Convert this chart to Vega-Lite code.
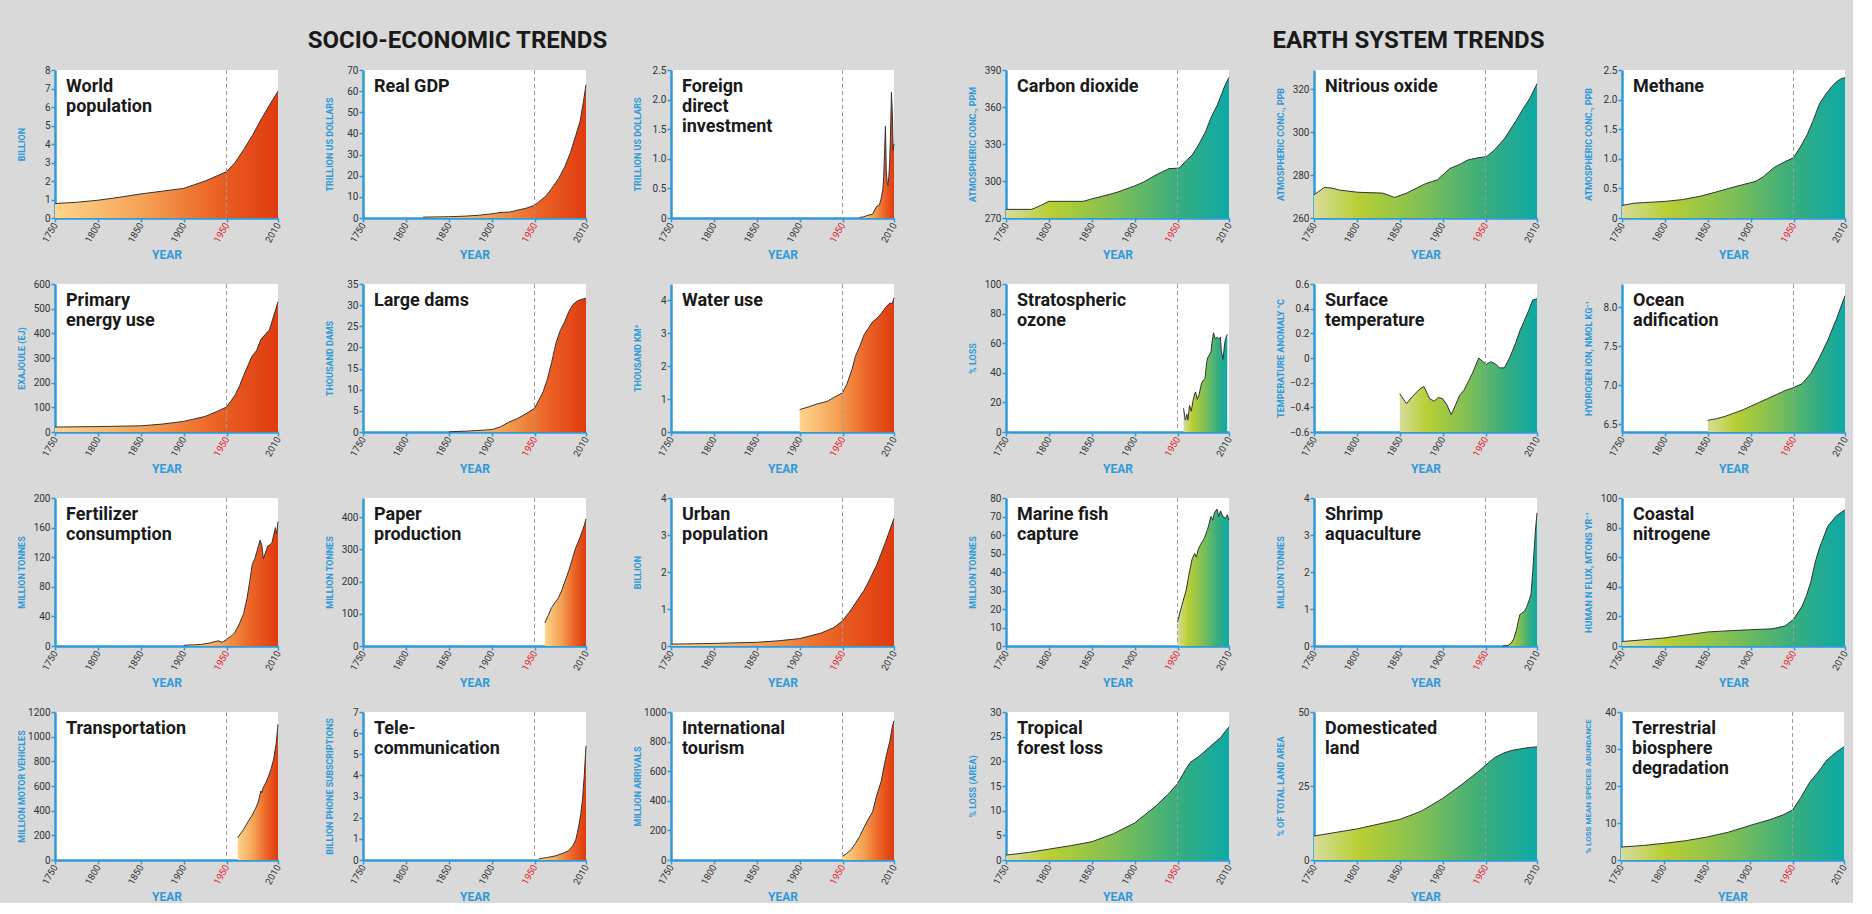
{
"$schema": "https://vega.github.io/schema/vega-lite/v6.json",
"background": "#d9d9d9",
"padding": {"left": 17, "top": 29, "right": 4, "bottom": 0},
"config": {
 "font": "Roboto, sans-serif",
 "view": {"fill": "white", "stroke": null},
 "axis": {"grid": false, "domainColor": "#2f9ad8", "domainWidth": 2.5, "tickColor": "#2f9ad8", "tickWidth": 1.5, "tickSize": 4, "labelFontSize": 10, "labelColor": "#333333", "titleFontWeight": "bold", "titleColor": "#2f9ad8", "titleFontSize": 9, "labelPadding": 1, "labelOverlap": false},
 "axisY": {"minExtent": 26, "maxExtent": 26, "titlePadding": 3, "labelOverlap": false, "tickCount": 20},
 "axisX": {"labelFontSize": 9.5, "titleFontSize": 12, "titlePadding": 6},
 "title": {"fontSize": 24, "fontWeight": "bold", "color": "#1a1a1a", "anchor": "middle", "offset": 12},
 "text": {"align": "left", "baseline": "top", "dx": 11, "dy": 8, "fontSize": 18, "fontWeight": "bold", "lineHeight": 20, "lineBreak": "\n", "color": "#1a1a1a"},
 "rule": {"color": "#9b9b9b", "strokeWidth": 1, "strokeDash": [4, 3]},
 "area": {"opacity": 1}
},
"datasets": {
 "ref": [{"year": 1950}],
 "worldPop": [{"year":1750,"value":0.78},{"year":1775,"value":0.85},{"year":1800,"value":0.96},{"year":1825,"value":1.12},{"year":1850,"value":1.3},{"year":1875,"value":1.45},{"year":1900,"value":1.6},{"year":1925,"value":2.0},{"year":1940,"value":2.3},{"year":1950,"value":2.5},{"year":1960,"value":3.0},{"year":1970,"value":3.7},{"year":1980,"value":4.45},{"year":1990,"value":5.3},{"year":2000,"value":6.1},{"year":2010,"value":6.85}],
 "gdp": [{"year":1820,"value":0.4},{"year":1850,"value":0.6},{"year":1870,"value":0.9},{"year":1885,"value":1.3},{"year":1900,"value":2.0},{"year":1913,"value":2.7},{"year":1921,"value":2.8},{"year":1930,"value":3.7},{"year":1940,"value":4.6},{"year":1950,"value":6.0},{"year":1955,"value":7.6},{"year":1964,"value":10.7},{"year":1970,"value":14},{"year":1978,"value":18.6},{"year":1985,"value":24},{"year":1992,"value":31},{"year":1998,"value":39},{"year":2003,"value":45.5},{"year":2007,"value":55},{"year":2010,"value":63}],
 "fdi": [{"year":1970,"value":0.01},{"year":1975,"value":0.02},{"year":1980,"value":0.05},{"year":1985,"value":0.06},{"year":1988,"value":0.15},{"year":1990,"value":0.2},{"year":1993,"value":0.22},{"year":1995,"value":0.33},{"year":1997,"value":0.48},{"year":1998,"value":0.7},{"year":1999,"value":1.1},{"year":2000,"value":1.55},{"year":2001,"value":0.8},{"year":2002,"value":0.6},{"year":2003,"value":0.55},{"year":2004,"value":0.7},{"year":2005,"value":0.95},{"year":2006,"value":1.45},{"year":2007,"value":2.12},{"year":2008,"value":1.8},{"year":2009,"value":1.15},{"year":2010,"value":1.25}],
 "energy": [{"year":1750,"value":20},{"year":1800,"value":22},{"year":1850,"value":25},{"year":1875,"value":32},{"year":1900,"value":43},{"year":1925,"value":63},{"year":1940,"value":85},{"year":1950,"value":101},{"year":1955,"value":125},{"year":1960,"value":150},{"year":1965,"value":185},{"year":1970,"value":230},{"year":1975,"value":270},{"year":1980,"value":309},{"year":1985,"value":330},{"year":1990,"value":375},{"year":1995,"value":395},{"year":2000,"value":414},{"year":2005,"value":470},{"year":2010,"value":528}],
 "dams": [{"year":1850,"value":0.05},{"year":1870,"value":0.2},{"year":1900,"value":0.55},{"year":1910,"value":1.2},{"year":1920,"value":2.3},{"year":1930,"value":3.2},{"year":1940,"value":4.3},{"year":1950,"value":5.6},{"year":1955,"value":7.5},{"year":1960,"value":9.5},{"year":1965,"value":12.5},{"year":1970,"value":16.5},{"year":1975,"value":21},{"year":1980,"value":24},{"year":1985,"value":26},{"year":1990,"value":28.5},{"year":1995,"value":30.2},{"year":2000,"value":31},{"year":2005,"value":31.4},{"year":2010,"value":31.6}],
 "water": [{"year":1900,"value":0.68},{"year":1910,"value":0.76},{"year":1920,"value":0.85},{"year":1932,"value":0.93},{"year":1940,"value":1.05},{"year":1950,"value":1.19},{"year":1955,"value":1.45},{"year":1961,"value":1.9},{"year":1965,"value":2.3},{"year":1970,"value":2.6},{"year":1975,"value":2.95},{"year":1980,"value":3.15},{"year":1985,"value":3.35},{"year":1990,"value":3.45},{"year":1995,"value":3.6},{"year":2000,"value":3.78},{"year":2005,"value":3.92},{"year":2008,"value":3.9},{"year":2010,"value":4.08}],
 "fert": [{"year":1900,"value":1},{"year":1910,"value":1.5},{"year":1920,"value":2},{"year":1930,"value":4},{"year":1940,"value":7},{"year":1945,"value":5},{"year":1950,"value":9},{"year":1955,"value":13},{"year":1959,"value":17},{"year":1965,"value":30},{"year":1970,"value":44},{"year":1974,"value":65},{"year":1977,"value":87},{"year":1980,"value":110},{"year":1983,"value":118},{"year":1986,"value":130},{"year":1989,"value":143},{"year":1991,"value":137},{"year":1993,"value":118},{"year":1995,"value":125},{"year":1998,"value":135},{"year":2001,"value":137},{"year":2003,"value":140},{"year":2005,"value":150},{"year":2007,"value":160},{"year":2008,"value":152},{"year":2009,"value":157},{"year":2010,"value":168}],
 "paper": [{"year":1962,"value":72},{"year":1966,"value":95},{"year":1970,"value":120},{"year":1974,"value":135},{"year":1978,"value":150},{"year":1982,"value":175},{"year":1986,"value":205},{"year":1990,"value":235},{"year":1994,"value":270},{"year":1998,"value":305},{"year":2002,"value":330},{"year":2006,"value":360},{"year":2008,"value":375},{"year":2010,"value":395}],
 "urban": [{"year":1750,"value":0.05},{"year":1800,"value":0.07},{"year":1850,"value":0.1},{"year":1875,"value":0.14},{"year":1900,"value":0.2},{"year":1925,"value":0.35},{"year":1940,"value":0.5},{"year":1950,"value":0.68},{"year":1960,"value":0.98},{"year":1970,"value":1.33},{"year":1975,"value":1.5},{"year":1980,"value":1.72},{"year":1990,"value":2.2},{"year":2000,"value":2.8},{"year":2010,"value":3.45}],
 "transport": [{"year":1963,"value":180},{"year":1967,"value":220},{"year":1970,"value":250},{"year":1975,"value":310},{"year":1980,"value":365},{"year":1984,"value":420},{"year":1987,"value":470},{"year":1990,"value":560},{"year":1991,"value":545},{"year":1993,"value":590},{"year":1996,"value":630},{"year":1999,"value":680},{"year":2002,"value":740},{"year":2005,"value":820},{"year":2008,"value":950},{"year":2010,"value":1100}],
 "telecom": [{"year":1955,"value":0.05},{"year":1965,"value":0.12},{"year":1975,"value":0.2},{"year":1985,"value":0.35},{"year":1990,"value":0.45},{"year":1995,"value":0.7},{"year":1998,"value":0.95},{"year":2000,"value":1.3},{"year":2002,"value":1.7},{"year":2004,"value":2.2},{"year":2006,"value":2.9},{"year":2008,"value":4.0},{"year":2010,"value":5.4}],
 "tourism": [{"year":1950,"value":25},{"year":1955,"value":45},{"year":1960,"value":70},{"year":1965,"value":112},{"year":1970,"value":160},{"year":1975,"value":220},{"year":1980,"value":275},{"year":1985,"value":325},{"year":1990,"value":440},{"year":1995,"value":530},{"year":2000,"value":680},{"year":2005,"value":800},{"year":2008,"value":900},{"year":2010,"value":940}],
 "co2": [{"year":1750,"value":277},{"year":1780,"value":277},{"year":1790,"value":280},{"year":1800,"value":283.5},{"year":1840,"value":283.5},{"year":1850,"value":285.5},{"year":1870,"value":289},{"year":1880,"value":291},{"year":1900,"value":296},{"year":1910,"value":299},{"year":1925,"value":305},{"year":1940,"value":310},{"year":1952,"value":310.5},{"year":1960,"value":316.5},{"year":1967,"value":321},{"year":1975,"value":330},{"year":1982,"value":339},{"year":1990,"value":353},{"year":1996,"value":361},{"year":2000,"value":368},{"year":2005,"value":377},{"year":2010,"value":384}],
 "n2o": [{"year":1750,"value":270.8},{"year":1762,"value":274.2},{"year":1770,"value":274},{"year":1780,"value":273},{"year":1801,"value":272},{"year":1830,"value":271.6},{"year":1844,"value":269.6},{"year":1858,"value":271.6},{"year":1870,"value":274},{"year":1880,"value":276},{"year":1894,"value":277.8},{"year":1908,"value":283},{"year":1920,"value":285},{"year":1929,"value":287},{"year":1940,"value":288},{"year":1951,"value":288.6},{"year":1960,"value":291.5},{"year":1972,"value":297},{"year":1985,"value":305},{"year":1994,"value":311},{"year":2002,"value":316},{"year":2010,"value":322.6}],
 "ch4": [{"year":1750,"value":0.21},{"year":1764,"value":0.25},{"year":1800,"value":0.28},{"year":1820,"value":0.31},{"year":1842,"value":0.37},{"year":1860,"value":0.44},{"year":1877,"value":0.51},{"year":1906,"value":0.62},{"year":1915,"value":0.7},{"year":1927,"value":0.85},{"year":1940,"value":0.95},{"year":1950,"value":1.02},{"year":1958,"value":1.2},{"year":1966,"value":1.41},{"year":1973,"value":1.65},{"year":1980,"value":1.92},{"year":1987,"value":2.08},{"year":1994,"value":2.21},{"year":2000,"value":2.3},{"year":2005,"value":2.35},{"year":2010,"value":2.37}],
 "ozone": [{"year":1957,"value":16},{"year":1959,"value":8},{"year":1961,"value":12},{"year":1962,"value":8},{"year":1964,"value":18},{"year":1966,"value":14},{"year":1968,"value":21},{"year":1970,"value":26},{"year":1971,"value":27},{"year":1973,"value":22},{"year":1975,"value":25},{"year":1978,"value":33},{"year":1980,"value":35},{"year":1982,"value":36},{"year":1984,"value":47},{"year":1985,"value":50},{"year":1987,"value":52},{"year":1989,"value":54},{"year":1990,"value":60},{"year":1992,"value":67},{"year":1994,"value":63},{"year":1996,"value":64},{"year":1998,"value":63},{"year":2000,"value":64},{"year":2001,"value":55},{"year":2003,"value":49},{"year":2005,"value":60},{"year":2006,"value":63},{"year":2008,"value":66}],
 "temp": [{"year":1850,"value":-0.29},{"year":1858,"value":-0.37},{"year":1865,"value":-0.31},{"year":1872,"value":-0.26},{"year":1878,"value":-0.23},{"year":1885,"value":-0.33},{"year":1890,"value":-0.35},{"year":1895,"value":-0.32},{"year":1900,"value":-0.33},{"year":1905,"value":-0.38},{"year":1910,"value":-0.46},{"year":1915,"value":-0.38},{"year":1920,"value":-0.3},{"year":1925,"value":-0.26},{"year":1930,"value":-0.19},{"year":1935,"value":-0.12},{"year":1942,"value":0.0},{"year":1947,"value":-0.03},{"year":1951,"value":-0.05},{"year":1956,"value":-0.03},{"year":1962,"value":-0.05},{"year":1966,"value":-0.08},{"year":1972,"value":-0.08},{"year":1978,"value":0.0},{"year":1985,"value":0.12},{"year":1990,"value":0.22},{"year":1995,"value":0.3},{"year":2000,"value":0.38},{"year":2005,"value":0.47},{"year":2010,"value":0.48}],
 "ocean": [{"year":1850,"value":6.55},{"year":1860,"value":6.57},{"year":1870,"value":6.6},{"year":1880,"value":6.64},{"year":1890,"value":6.68},{"year":1900,"value":6.73},{"year":1910,"value":6.78},{"year":1920,"value":6.83},{"year":1930,"value":6.88},{"year":1940,"value":6.93},{"year":1950,"value":6.97},{"year":1960,"value":7.02},{"year":1970,"value":7.15},{"year":1980,"value":7.35},{"year":1990,"value":7.58},{"year":2000,"value":7.85},{"year":2010,"value":8.15}],
 "fish": [{"year":1950,"value":13},{"year":1955,"value":22},{"year":1960,"value":30},{"year":1963,"value":38},{"year":1967,"value":47},{"year":1970,"value":50},{"year":1972,"value":48},{"year":1974,"value":52},{"year":1977,"value":55},{"year":1981,"value":58},{"year":1985,"value":63},{"year":1989,"value":70},{"year":1991,"value":68},{"year":1993,"value":72},{"year":1996,"value":74},{"year":1998,"value":70},{"year":2000,"value":73},{"year":2003,"value":70},{"year":2006,"value":69},{"year":2008,"value":71},{"year":2010,"value":68}],
 "shrimp": [{"year":1970,"value":0},{"year":1976,"value":0.01},{"year":1980,"value":0.08},{"year":1983,"value":0.2},{"year":1986,"value":0.43},{"year":1988,"value":0.65},{"year":1990,"value":0.85},{"year":1992,"value":0.88},{"year":1995,"value":0.93},{"year":1998,"value":1.05},{"year":2001,"value":1.25},{"year":2003,"value":1.4},{"year":2005,"value":2.0},{"year":2007,"value":2.7},{"year":2008,"value":3.07},{"year":2010,"value":3.6}],
 "nitro": [{"year":1750,"value":3},{"year":1775,"value":4.2},{"year":1800,"value":5.5},{"year":1825,"value":7.5},{"year":1850,"value":9.5},{"year":1875,"value":10.3},{"year":1900,"value":11},{"year":1925,"value":11.6},{"year":1940,"value":13.5},{"year":1950,"value":18},{"year":1960,"value":27},{"year":1965,"value":34},{"year":1970,"value":43},{"year":1975,"value":56},{"year":1980,"value":66},{"year":1990,"value":81},{"year":2000,"value":88},{"year":2010,"value":92}],
 "forest": [{"year":1750,"value":1.0},{"year":1775,"value":1.5},{"year":1800,"value":2.2},{"year":1825,"value":2.9},{"year":1850,"value":3.7},{"year":1875,"value":5.3},{"year":1900,"value":7.5},{"year":1925,"value":11},{"year":1940,"value":13.5},{"year":1950,"value":15.5},{"year":1960,"value":18.5},{"year":1965,"value":19.8},{"year":1975,"value":21},{"year":1990,"value":23.3},{"year":2000,"value":24.8},{"year":2010,"value":27}],
 "land": [{"year":1750,"value":8.1},{"year":1800,"value":10.5},{"year":1850,"value":13.7},{"year":1875,"value":16.5},{"year":1900,"value":20.8},{"year":1920,"value":25},{"year":1940,"value":29.5},{"year":1950,"value":32},{"year":1960,"value":34.5},{"year":1970,"value":36},{"year":1980,"value":37},{"year":1990,"value":37.5},{"year":2000,"value":38},{"year":2010,"value":38.2}],
 "bio": [{"year":1750,"value":3.5},{"year":1775,"value":3.9},{"year":1800,"value":4.5},{"year":1825,"value":5.2},{"year":1850,"value":6.2},{"year":1875,"value":7.5},{"year":1900,"value":9.3},{"year":1925,"value":11},{"year":1940,"value":12.3},{"year":1950,"value":13.5},{"year":1960,"value":17},{"year":1970,"value":21},{"year":1980,"value":23.8},{"year":1990,"value":27},{"year":2000,"value":29},{"year":2010,"value":30.6}]
},
"spacing": 70,
"hconcat": [
 {"title": "SOCIO-ECONOMIC TRENDS", "spacing": 18, "vconcat": [
  {"spacing": 43, "hconcat": [
   {"width": 223, "height": 148, "layer": [
    {"data": {"name": "worldPop"}, "mark": {"type": "area", "opacity": 1, "fill": {"gradient": "linear", "x1": 0, "y1": 0, "x2": 1, "y2": 0, "stops": [{"offset": 0, "color": "#fdd58c"}, {"offset": 0.4, "color": "#f5a154"}, {"offset": 0.7, "color": "#ec6627"}, {"offset": 1, "color": "#df3a0f"}]}, "line": {"color": "#333333", "strokeWidth": 1}},
     "encoding": {"x": {"field": "year", "type": "quantitative", "title": "YEAR", "scale": {"domain": [1750, 2010], "nice": false, "zero": false}, "axis": {"values": [1750, 1800, 1850, 1900, 1950, 2010], "format": "d", "labelAngle": -60, "labelFlush": false, "labelOverlap": false, "labelColor": {"condition": {"test": "datum.value === 1950", "value": "#e8202a"}, "value": "#333333"}}},
      "y": {"field": "value", "type": "quantitative", "title": "BILLION", "scale": {"domain": [0, 8], "nice": false, "zero": false}, "axis": {"values": [0, 1, 2, 3, 4, 5, 6, 7, 8], "format": "d", "tickCount": 20, "labelOverlap": false}},
      "y2": {"datum": 0}}},
    {"data": {"name": "ref"}, "mark": "rule", "encoding": {"x": {"field": "year", "type": "quantitative", "title": "YEAR"}}},
    {"data": {"values": [{"label": "World\npopulation"}]}, "mark": "text", "encoding": {"x": {"datum": 1750}, "y": {"datum": 8}, "text": {"field": "label"}}}
   ]},
   {"width": 223, "height": 148, "layer": [
    {"data": {"name": "gdp"}, "mark": {"type": "area", "opacity": 1, "fill": {"gradient": "linear", "x1": 0, "y1": 0, "x2": 1, "y2": 0, "stops": [{"offset": 0, "color": "#fdd58c"}, {"offset": 0.4, "color": "#f5a154"}, {"offset": 0.7, "color": "#ec6627"}, {"offset": 1, "color": "#df3a0f"}]}, "line": {"color": "#333333", "strokeWidth": 1}},
     "encoding": {"x": {"field": "year", "type": "quantitative", "title": "YEAR", "scale": {"domain": [1750, 2010], "nice": false, "zero": false}, "axis": {"values": [1750, 1800, 1850, 1900, 1950, 2010], "format": "d", "labelAngle": -60, "labelFlush": false, "labelOverlap": false, "labelColor": {"condition": {"test": "datum.value === 1950", "value": "#e8202a"}, "value": "#333333"}}},
      "y": {"field": "value", "type": "quantitative", "title": "TRILLION US DOLLARS", "scale": {"domain": [0, 70], "nice": false, "zero": false}, "axis": {"values": [0, 10, 20, 30, 40, 50, 60, 70], "format": "d", "tickCount": 20, "labelOverlap": false}},
      "y2": {"datum": 0}}},
    {"data": {"name": "ref"}, "mark": "rule", "encoding": {"x": {"field": "year", "type": "quantitative", "title": "YEAR"}}},
    {"data": {"values": [{"label": "Real GDP"}]}, "mark": "text", "encoding": {"x": {"datum": 1750}, "y": {"datum": 70}, "text": {"field": "label"}}}
   ]},
   {"width": 223, "height": 148, "layer": [
    {"data": {"name": "fdi"}, "mark": {"type": "area", "opacity": 1, "fill": {"gradient": "linear", "x1": 0, "y1": 0, "x2": 1, "y2": 0, "stops": [{"offset": 0, "color": "#fdd58c"}, {"offset": 0.4, "color": "#f5a154"}, {"offset": 0.7, "color": "#ec6627"}, {"offset": 1, "color": "#df3a0f"}]}, "line": {"color": "#333333", "strokeWidth": 1}},
     "encoding": {"x": {"field": "year", "type": "quantitative", "title": "YEAR", "scale": {"domain": [1750, 2010], "nice": false, "zero": false}, "axis": {"values": [1750, 1800, 1850, 1900, 1950, 2010], "format": "d", "labelAngle": -60, "labelFlush": false, "labelOverlap": false, "labelColor": {"condition": {"test": "datum.value === 1950", "value": "#e8202a"}, "value": "#333333"}}},
      "y": {"field": "value", "type": "quantitative", "title": "TRILLION US DOLLARS", "scale": {"domain": [0, 2.5], "nice": false, "zero": false}, "axis": {"values": [0, 0.5, 1, 1.5, 2, 2.5], "tickCount": 20, "labelOverlap": false, "labelExpr": "datum.value === 0 ? '0' : format(datum.value, '.1f')"}},
      "y2": {"datum": 0}}},
    {"data": {"name": "ref"}, "mark": "rule", "encoding": {"x": {"field": "year", "type": "quantitative", "title": "YEAR"}}},
    {"data": {"values": [{"label": "Foreign\ndirect\ninvestment"}]}, "mark": "text", "encoding": {"x": {"datum": 1750}, "y": {"datum": 2.5}, "text": {"field": "label"}}}
   ]}
  ]},
  {"spacing": 43, "hconcat": [
   {"width": 223, "height": 148, "layer": [
    {"data": {"name": "energy"}, "mark": {"type": "area", "opacity": 1, "fill": {"gradient": "linear", "x1": 0, "y1": 0, "x2": 1, "y2": 0, "stops": [{"offset": 0, "color": "#fdd58c"}, {"offset": 0.4, "color": "#f5a154"}, {"offset": 0.7, "color": "#ec6627"}, {"offset": 1, "color": "#df3a0f"}]}, "line": {"color": "#333333", "strokeWidth": 1}},
     "encoding": {"x": {"field": "year", "type": "quantitative", "title": "YEAR", "scale": {"domain": [1750, 2010], "nice": false, "zero": false}, "axis": {"values": [1750, 1800, 1850, 1900, 1950, 2010], "format": "d", "labelAngle": -60, "labelFlush": false, "labelOverlap": false, "labelColor": {"condition": {"test": "datum.value === 1950", "value": "#e8202a"}, "value": "#333333"}}},
      "y": {"field": "value", "type": "quantitative", "title": "EXAJOULE (EJ)", "scale": {"domain": [0, 600], "nice": false, "zero": false}, "axis": {"values": [0, 100, 200, 300, 400, 500, 600], "format": "d", "tickCount": 20, "labelOverlap": false}},
      "y2": {"datum": 0}}},
    {"data": {"name": "ref"}, "mark": "rule", "encoding": {"x": {"field": "year", "type": "quantitative", "title": "YEAR"}}},
    {"data": {"values": [{"label": "Primary\nenergy use"}]}, "mark": "text", "encoding": {"x": {"datum": 1750}, "y": {"datum": 600}, "text": {"field": "label"}}}
   ]},
   {"width": 223, "height": 148, "layer": [
    {"data": {"name": "dams"}, "mark": {"type": "area", "opacity": 1, "fill": {"gradient": "linear", "x1": 0, "y1": 0, "x2": 1, "y2": 0, "stops": [{"offset": 0, "color": "#fdd58c"}, {"offset": 0.4, "color": "#f5a154"}, {"offset": 0.7, "color": "#ec6627"}, {"offset": 1, "color": "#df3a0f"}]}, "line": {"color": "#333333", "strokeWidth": 1}},
     "encoding": {"x": {"field": "year", "type": "quantitative", "title": "YEAR", "scale": {"domain": [1750, 2010], "nice": false, "zero": false}, "axis": {"values": [1750, 1800, 1850, 1900, 1950, 2010], "format": "d", "labelAngle": -60, "labelFlush": false, "labelOverlap": false, "labelColor": {"condition": {"test": "datum.value === 1950", "value": "#e8202a"}, "value": "#333333"}}},
      "y": {"field": "value", "type": "quantitative", "title": "THOUSAND DAMS", "scale": {"domain": [0, 35], "nice": false, "zero": false}, "axis": {"values": [0, 5, 10, 15, 20, 25, 30, 35], "format": "d", "tickCount": 20, "labelOverlap": false}},
      "y2": {"datum": 0}}},
    {"data": {"name": "ref"}, "mark": "rule", "encoding": {"x": {"field": "year", "type": "quantitative", "title": "YEAR"}}},
    {"data": {"values": [{"label": "Large dams"}]}, "mark": "text", "encoding": {"x": {"datum": 1750}, "y": {"datum": 35}, "text": {"field": "label"}}}
   ]},
   {"width": 223, "height": 148, "layer": [
    {"data": {"name": "water"}, "mark": {"type": "area", "opacity": 1, "fill": {"gradient": "linear", "x1": 0, "y1": 0, "x2": 1, "y2": 0, "stops": [{"offset": 0, "color": "#fdd58c"}, {"offset": 0.4, "color": "#f5a154"}, {"offset": 0.7, "color": "#ec6627"}, {"offset": 1, "color": "#df3a0f"}]}, "line": {"color": "#333333", "strokeWidth": 1}},
     "encoding": {"x": {"field": "year", "type": "quantitative", "title": "YEAR", "scale": {"domain": [1750, 2010], "nice": false, "zero": false}, "axis": {"values": [1750, 1800, 1850, 1900, 1950, 2010], "format": "d", "labelAngle": -60, "labelFlush": false, "labelOverlap": false, "labelColor": {"condition": {"test": "datum.value === 1950", "value": "#e8202a"}, "value": "#333333"}}},
      "y": {"field": "value", "type": "quantitative", "title": "THOUSAND KM³", "scale": {"domain": [0, 4.5], "nice": false, "zero": false}, "axis": {"values": [0, 1, 2, 3, 4], "format": "d", "tickCount": 20, "labelOverlap": false}},
      "y2": {"datum": 0}}},
    {"data": {"name": "ref"}, "mark": "rule", "encoding": {"x": {"field": "year", "type": "quantitative", "title": "YEAR"}}},
    {"data": {"values": [{"label": "Water use"}]}, "mark": "text", "encoding": {"x": {"datum": 1750}, "y": {"datum": 4.5}, "text": {"field": "label"}}}
   ]}
  ]},
  {"spacing": 43, "hconcat": [
   {"width": 223, "height": 148, "layer": [
    {"data": {"name": "fert"}, "mark": {"type": "area", "opacity": 1, "fill": {"gradient": "linear", "x1": 0, "y1": 0, "x2": 1, "y2": 0, "stops": [{"offset": 0, "color": "#fdd58c"}, {"offset": 0.4, "color": "#f5a154"}, {"offset": 0.7, "color": "#ec6627"}, {"offset": 1, "color": "#df3a0f"}]}, "line": {"color": "#333333", "strokeWidth": 1}},
     "encoding": {"x": {"field": "year", "type": "quantitative", "title": "YEAR", "scale": {"domain": [1750, 2010], "nice": false, "zero": false}, "axis": {"values": [1750, 1800, 1850, 1900, 1950, 2010], "format": "d", "labelAngle": -60, "labelFlush": false, "labelOverlap": false, "labelColor": {"condition": {"test": "datum.value === 1950", "value": "#e8202a"}, "value": "#333333"}}},
      "y": {"field": "value", "type": "quantitative", "title": "MILLION TONNES", "scale": {"domain": [0, 200], "nice": false, "zero": false}, "axis": {"values": [0, 40, 80, 120, 160, 200], "format": "d", "tickCount": 20, "labelOverlap": false}},
      "y2": {"datum": 0}}},
    {"data": {"name": "ref"}, "mark": "rule", "encoding": {"x": {"field": "year", "type": "quantitative", "title": "YEAR"}}},
    {"data": {"values": [{"label": "Fertilizer\nconsumption"}]}, "mark": "text", "encoding": {"x": {"datum": 1750}, "y": {"datum": 200}, "text": {"field": "label"}}}
   ]},
   {"width": 223, "height": 148, "layer": [
    {"data": {"name": "paper"}, "mark": {"type": "area", "opacity": 1, "fill": {"gradient": "linear", "x1": 0, "y1": 0, "x2": 1, "y2": 0, "stops": [{"offset": 0, "color": "#fdd58c"}, {"offset": 0.4, "color": "#f5a154"}, {"offset": 0.7, "color": "#ec6627"}, {"offset": 1, "color": "#df3a0f"}]}, "line": {"color": "#333333", "strokeWidth": 1}},
     "encoding": {"x": {"field": "year", "type": "quantitative", "title": "YEAR", "scale": {"domain": [1750, 2010], "nice": false, "zero": false}, "axis": {"values": [1750, 1800, 1850, 1900, 1950, 2010], "format": "d", "labelAngle": -60, "labelFlush": false, "labelOverlap": false, "labelColor": {"condition": {"test": "datum.value === 1950", "value": "#e8202a"}, "value": "#333333"}}},
      "y": {"field": "value", "type": "quantitative", "title": "MILLION TONNES", "scale": {"domain": [0, 460], "nice": false, "zero": false}, "axis": {"values": [0, 100, 200, 300, 400], "format": "d", "tickCount": 20, "labelOverlap": false}},
      "y2": {"datum": 0}}},
    {"data": {"name": "ref"}, "mark": "rule", "encoding": {"x": {"field": "year", "type": "quantitative", "title": "YEAR"}}},
    {"data": {"values": [{"label": "Paper\nproduction"}]}, "mark": "text", "encoding": {"x": {"datum": 1750}, "y": {"datum": 460}, "text": {"field": "label"}}}
   ]},
   {"width": 223, "height": 148, "layer": [
    {"data": {"name": "urban"}, "mark": {"type": "area", "opacity": 1, "fill": {"gradient": "linear", "x1": 0, "y1": 0, "x2": 1, "y2": 0, "stops": [{"offset": 0, "color": "#fdd58c"}, {"offset": 0.4, "color": "#f5a154"}, {"offset": 0.7, "color": "#ec6627"}, {"offset": 1, "color": "#df3a0f"}]}, "line": {"color": "#333333", "strokeWidth": 1}},
     "encoding": {"x": {"field": "year", "type": "quantitative", "title": "YEAR", "scale": {"domain": [1750, 2010], "nice": false, "zero": false}, "axis": {"values": [1750, 1800, 1850, 1900, 1950, 2010], "format": "d", "labelAngle": -60, "labelFlush": false, "labelOverlap": false, "labelColor": {"condition": {"test": "datum.value === 1950", "value": "#e8202a"}, "value": "#333333"}}},
      "y": {"field": "value", "type": "quantitative", "title": "BILLION", "scale": {"domain": [0, 4], "nice": false, "zero": false}, "axis": {"values": [0, 1, 2, 3, 4], "format": "d", "tickCount": 20, "labelOverlap": false}},
      "y2": {"datum": 0}}},
    {"data": {"name": "ref"}, "mark": "rule", "encoding": {"x": {"field": "year", "type": "quantitative", "title": "YEAR"}}},
    {"data": {"values": [{"label": "Urban\npopulation"}]}, "mark": "text", "encoding": {"x": {"datum": 1750}, "y": {"datum": 4}, "text": {"field": "label"}}}
   ]}
  ]},
  {"spacing": 43, "hconcat": [
   {"width": 223, "height": 148, "layer": [
    {"data": {"name": "transport"}, "mark": {"type": "area", "opacity": 1, "fill": {"gradient": "linear", "x1": 0, "y1": 0, "x2": 1, "y2": 0, "stops": [{"offset": 0, "color": "#fdd58c"}, {"offset": 0.4, "color": "#f5a154"}, {"offset": 0.7, "color": "#ec6627"}, {"offset": 1, "color": "#df3a0f"}]}, "line": {"color": "#333333", "strokeWidth": 1}},
     "encoding": {"x": {"field": "year", "type": "quantitative", "title": "YEAR", "scale": {"domain": [1750, 2010], "nice": false, "zero": false}, "axis": {"values": [1750, 1800, 1850, 1900, 1950, 2010], "format": "d", "labelAngle": -60, "labelFlush": false, "labelOverlap": false, "labelColor": {"condition": {"test": "datum.value === 1950", "value": "#e8202a"}, "value": "#333333"}}},
      "y": {"field": "value", "type": "quantitative", "title": "MILLION MOTOR VEHICLES", "scale": {"domain": [0, 1200], "nice": false, "zero": false}, "axis": {"values": [0, 200, 400, 600, 800, 1000, 1200], "tickCount": 20, "format": "d", "labelOverlap": false}},
      "y2": {"datum": 0}}},
    {"data": {"name": "ref"}, "mark": "rule", "encoding": {"x": {"field": "year", "type": "quantitative", "title": "YEAR"}}},
    {"data": {"values": [{"label": "Transportation"}]}, "mark": "text", "encoding": {"x": {"datum": 1750}, "y": {"datum": 1200}, "text": {"field": "label"}}}
   ]},
   {"width": 223, "height": 148, "layer": [
    {"data": {"name": "telecom"}, "mark": {"type": "area", "opacity": 1, "fill": {"gradient": "linear", "x1": 0, "y1": 0, "x2": 1, "y2": 0, "stops": [{"offset": 0, "color": "#fdd58c"}, {"offset": 0.4, "color": "#f5a154"}, {"offset": 0.7, "color": "#ec6627"}, {"offset": 1, "color": "#df3a0f"}]}, "line": {"color": "#333333", "strokeWidth": 1}},
     "encoding": {"x": {"field": "year", "type": "quantitative", "title": "YEAR", "scale": {"domain": [1750, 2010], "nice": false, "zero": false}, "axis": {"values": [1750, 1800, 1850, 1900, 1950, 2010], "format": "d", "labelAngle": -60, "labelFlush": false, "labelOverlap": false, "labelColor": {"condition": {"test": "datum.value === 1950", "value": "#e8202a"}, "value": "#333333"}}},
      "y": {"field": "value", "type": "quantitative", "title": "BILLION PHONE SUBSCRIPTIONS", "scale": {"domain": [0, 7], "nice": false, "zero": false}, "axis": {"values": [0, 1, 2, 3, 4, 5, 6, 7], "format": "d", "tickCount": 20, "labelOverlap": false}},
      "y2": {"datum": 0}}},
    {"data": {"name": "ref"}, "mark": "rule", "encoding": {"x": {"field": "year", "type": "quantitative", "title": "YEAR"}}},
    {"data": {"values": [{"label": "Tele-\ncommunication"}]}, "mark": "text", "encoding": {"x": {"datum": 1750}, "y": {"datum": 7}, "text": {"field": "label"}}}
   ]},
   {"width": 223, "height": 148, "layer": [
    {"data": {"name": "tourism"}, "mark": {"type": "area", "opacity": 1, "fill": {"gradient": "linear", "x1": 0, "y1": 0, "x2": 1, "y2": 0, "stops": [{"offset": 0, "color": "#fdd58c"}, {"offset": 0.4, "color": "#f5a154"}, {"offset": 0.7, "color": "#ec6627"}, {"offset": 1, "color": "#df3a0f"}]}, "line": {"color": "#333333", "strokeWidth": 1}},
     "encoding": {"x": {"field": "year", "type": "quantitative", "title": "YEAR", "scale": {"domain": [1750, 2010], "nice": false, "zero": false}, "axis": {"values": [1750, 1800, 1850, 1900, 1950, 2010], "format": "d", "labelAngle": -60, "labelFlush": false, "labelOverlap": false, "labelColor": {"condition": {"test": "datum.value === 1950", "value": "#e8202a"}, "value": "#333333"}}},
      "y": {"field": "value", "type": "quantitative", "title": "MILLION ARRIVALS", "scale": {"domain": [0, 1000], "nice": false, "zero": false}, "axis": {"values": [0, 200, 400, 600, 800, 1000], "tickCount": 20, "format": "d", "labelOverlap": false}},
      "y2": {"datum": 0}}},
    {"data": {"name": "ref"}, "mark": "rule", "encoding": {"x": {"field": "year", "type": "quantitative", "title": "YEAR"}}},
    {"data": {"values": [{"label": "International\ntourism"}]}, "mark": "text", "encoding": {"x": {"datum": 1750}, "y": {"datum": 1000}, "text": {"field": "label"}}}
   ]}
  ]}
 ]},
 {"title": "EARTH SYSTEM TRENDS", "spacing": 18, "vconcat": [
  {"spacing": 43, "hconcat": [
   {"width": 223, "height": 148, "layer": [
    {"data": {"name": "co2"}, "mark": {"type": "area", "opacity": 1, "fill": {"gradient": "linear", "x1": 0, "y1": 0, "x2": 1, "y2": 0, "stops": [{"offset": 0, "color": "#d7dc9b"}, {"offset": 0.2, "color": "#b9ce33"}, {"offset": 0.5, "color": "#7dbf57"}, {"offset": 0.78, "color": "#36ad80"}, {"offset": 1, "color": "#0da9a5"}]}, "line": {"color": "#333333", "strokeWidth": 1}},
     "encoding": {"x": {"field": "year", "type": "quantitative", "title": "YEAR", "scale": {"domain": [1750, 2010], "nice": false, "zero": false}, "axis": {"values": [1750, 1800, 1850, 1900, 1950, 2010], "format": "d", "labelAngle": -60, "labelFlush": false, "labelOverlap": false, "labelColor": {"condition": {"test": "datum.value === 1950", "value": "#e8202a"}, "value": "#333333"}}},
      "y": {"field": "value", "type": "quantitative", "title": "ATMOSPHERIC CONC., PPM", "scale": {"domain": [270, 390], "nice": false, "zero": false}, "axis": {"values": [270, 300, 330, 360, 390], "format": "d", "tickCount": 20, "labelOverlap": false}},
      "y2": {"datum": 270}}},
    {"data": {"name": "ref"}, "mark": "rule", "encoding": {"x": {"field": "year", "type": "quantitative", "title": "YEAR"}}},
    {"data": {"values": [{"label": "Carbon dioxide"}]}, "mark": "text", "encoding": {"x": {"datum": 1750}, "y": {"datum": 390}, "text": {"field": "label"}}}
   ]},
   {"width": 223, "height": 148, "layer": [
    {"data": {"name": "n2o"}, "mark": {"type": "area", "opacity": 1, "fill": {"gradient": "linear", "x1": 0, "y1": 0, "x2": 1, "y2": 0, "stops": [{"offset": 0, "color": "#d7dc9b"}, {"offset": 0.2, "color": "#b9ce33"}, {"offset": 0.5, "color": "#7dbf57"}, {"offset": 0.78, "color": "#36ad80"}, {"offset": 1, "color": "#0da9a5"}]}, "line": {"color": "#333333", "strokeWidth": 1}},
     "encoding": {"x": {"field": "year", "type": "quantitative", "title": "YEAR", "scale": {"domain": [1750, 2010], "nice": false, "zero": false}, "axis": {"values": [1750, 1800, 1850, 1900, 1950, 2010], "format": "d", "labelAngle": -60, "labelFlush": false, "labelOverlap": false, "labelColor": {"condition": {"test": "datum.value === 1950", "value": "#e8202a"}, "value": "#333333"}}},
      "y": {"field": "value", "type": "quantitative", "title": "ATMOSPHERIC CONC., PPB", "scale": {"domain": [260, 329], "nice": false, "zero": false}, "axis": {"values": [260, 280, 300, 320], "format": "d", "tickCount": 20, "labelOverlap": false}},
      "y2": {"datum": 260}}},
    {"data": {"name": "ref"}, "mark": "rule", "encoding": {"x": {"field": "year", "type": "quantitative", "title": "YEAR"}}},
    {"data": {"values": [{"label": "Nitrious oxide"}]}, "mark": "text", "encoding": {"x": {"datum": 1750}, "y": {"datum": 329}, "text": {"field": "label"}}}
   ]},
   {"width": 223, "height": 148, "layer": [
    {"data": {"name": "ch4"}, "mark": {"type": "area", "opacity": 1, "fill": {"gradient": "linear", "x1": 0, "y1": 0, "x2": 1, "y2": 0, "stops": [{"offset": 0, "color": "#d7dc9b"}, {"offset": 0.2, "color": "#b9ce33"}, {"offset": 0.5, "color": "#7dbf57"}, {"offset": 0.78, "color": "#36ad80"}, {"offset": 1, "color": "#0da9a5"}]}, "line": {"color": "#333333", "strokeWidth": 1}},
     "encoding": {"x": {"field": "year", "type": "quantitative", "title": "YEAR", "scale": {"domain": [1750, 2010], "nice": false, "zero": false}, "axis": {"values": [1750, 1800, 1850, 1900, 1950, 2010], "format": "d", "labelAngle": -60, "labelFlush": false, "labelOverlap": false, "labelColor": {"condition": {"test": "datum.value === 1950", "value": "#e8202a"}, "value": "#333333"}}},
      "y": {"field": "value", "type": "quantitative", "title": "ATMOSPHERIC CONC., PPB", "scale": {"domain": [0, 2.5], "nice": false, "zero": false}, "axis": {"values": [0, 0.5, 1, 1.5, 2, 2.5], "tickCount": 20, "labelOverlap": false, "labelExpr": "datum.value === 0 ? '0' : format(datum.value, '.1f')"}},
      "y2": {"datum": 0}}},
    {"data": {"name": "ref"}, "mark": "rule", "encoding": {"x": {"field": "year", "type": "quantitative", "title": "YEAR"}}},
    {"data": {"values": [{"label": "Methane"}]}, "mark": "text", "encoding": {"x": {"datum": 1750}, "y": {"datum": 2.5}, "text": {"field": "label"}}}
   ]}
  ]},
  {"spacing": 43, "hconcat": [
   {"width": 223, "height": 148, "layer": [
    {"data": {"name": "ozone"}, "mark": {"type": "area", "opacity": 1, "fill": {"gradient": "linear", "x1": 0, "y1": 0, "x2": 1, "y2": 0, "stops": [{"offset": 0, "color": "#d7dc9b"}, {"offset": 0.2, "color": "#b9ce33"}, {"offset": 0.5, "color": "#7dbf57"}, {"offset": 0.78, "color": "#36ad80"}, {"offset": 1, "color": "#0da9a5"}]}, "line": {"color": "#333333", "strokeWidth": 1}},
     "encoding": {"x": {"field": "year", "type": "quantitative", "title": "YEAR", "scale": {"domain": [1750, 2010], "nice": false, "zero": false}, "axis": {"values": [1750, 1800, 1850, 1900, 1950, 2010], "format": "d", "labelAngle": -60, "labelFlush": false, "labelOverlap": false, "labelColor": {"condition": {"test": "datum.value === 1950", "value": "#e8202a"}, "value": "#333333"}}},
      "y": {"field": "value", "type": "quantitative", "title": "% LOSS", "scale": {"domain": [0, 100], "nice": false, "zero": false}, "axis": {"values": [0, 20, 40, 60, 80, 100], "format": "d", "tickCount": 20, "labelOverlap": false}},
      "y2": {"datum": 0}}},
    {"data": {"name": "ref"}, "mark": "rule", "encoding": {"x": {"field": "year", "type": "quantitative", "title": "YEAR"}}},
    {"data": {"values": [{"label": "Stratospheric\nozone"}]}, "mark": "text", "encoding": {"x": {"datum": 1750}, "y": {"datum": 100}, "text": {"field": "label"}}}
   ]},
   {"width": 223, "height": 148, "layer": [
    {"data": {"name": "temp"}, "mark": {"type": "area", "opacity": 1, "fill": {"gradient": "linear", "x1": 0, "y1": 0, "x2": 1, "y2": 0, "stops": [{"offset": 0, "color": "#d7dc9b"}, {"offset": 0.2, "color": "#b9ce33"}, {"offset": 0.5, "color": "#7dbf57"}, {"offset": 0.78, "color": "#36ad80"}, {"offset": 1, "color": "#0da9a5"}]}, "line": {"color": "#333333", "strokeWidth": 1}},
     "encoding": {"x": {"field": "year", "type": "quantitative", "title": "YEAR", "scale": {"domain": [1750, 2010], "nice": false, "zero": false}, "axis": {"values": [1750, 1800, 1850, 1900, 1950, 2010], "format": "d", "labelAngle": -60, "labelFlush": false, "labelOverlap": false, "labelColor": {"condition": {"test": "datum.value === 1950", "value": "#e8202a"}, "value": "#333333"}}},
      "y": {"field": "value", "type": "quantitative", "title": "TEMPERATURE ANOMALY °C", "scale": {"domain": [-0.6, 0.6], "nice": false, "zero": false}, "axis": {"values": [-0.6, -0.4, -0.2, 0, 0.2, 0.4, 0.6], "tickCount": 20, "labelOverlap": false, "labelExpr": "datum.value === 0 ? '0' : format(datum.value, '.1f')"}},
      "y2": {"datum": -0.6}}},
    {"data": {"name": "ref"}, "mark": "rule", "encoding": {"x": {"field": "year", "type": "quantitative", "title": "YEAR"}}},
    {"data": {"values": [{"label": "Surface\ntemperature"}]}, "mark": "text", "encoding": {"x": {"datum": 1750}, "y": {"datum": 0.6}, "text": {"field": "label"}}}
   ]},
   {"width": 223, "height": 148, "layer": [
    {"data": {"name": "ocean"}, "mark": {"type": "area", "opacity": 1, "fill": {"gradient": "linear", "x1": 0, "y1": 0, "x2": 1, "y2": 0, "stops": [{"offset": 0, "color": "#d7dc9b"}, {"offset": 0.2, "color": "#b9ce33"}, {"offset": 0.5, "color": "#7dbf57"}, {"offset": 0.78, "color": "#36ad80"}, {"offset": 1, "color": "#0da9a5"}]}, "line": {"color": "#333333", "strokeWidth": 1}},
     "encoding": {"x": {"field": "year", "type": "quantitative", "title": "YEAR", "scale": {"domain": [1750, 2010], "nice": false, "zero": false}, "axis": {"values": [1750, 1800, 1850, 1900, 1950, 2010], "format": "d", "labelAngle": -60, "labelFlush": false, "labelOverlap": false, "labelColor": {"condition": {"test": "datum.value === 1950", "value": "#e8202a"}, "value": "#333333"}}},
      "y": {"field": "value", "type": "quantitative", "title": "HYDROGEN ION, NMOL KG⁻¹", "scale": {"domain": [6.4, 8.3], "nice": false, "zero": false}, "axis": {"values": [6.5, 7, 7.5, 8], "tickCount": 20, "format": ".1f", "labelOverlap": false}},
      "y2": {"datum": 6.4}}},
    {"data": {"name": "ref"}, "mark": "rule", "encoding": {"x": {"field": "year", "type": "quantitative", "title": "YEAR"}}},
    {"data": {"values": [{"label": "Ocean\nadification"}]}, "mark": "text", "encoding": {"x": {"datum": 1750}, "y": {"datum": 8.3}, "text": {"field": "label"}}}
   ]}
  ]},
  {"spacing": 43, "hconcat": [
   {"width": 223, "height": 148, "layer": [
    {"data": {"name": "fish"}, "mark": {"type": "area", "opacity": 1, "fill": {"gradient": "linear", "x1": 0, "y1": 0, "x2": 1, "y2": 0, "stops": [{"offset": 0, "color": "#d7dc9b"}, {"offset": 0.2, "color": "#b9ce33"}, {"offset": 0.5, "color": "#7dbf57"}, {"offset": 0.78, "color": "#36ad80"}, {"offset": 1, "color": "#0da9a5"}]}, "line": {"color": "#333333", "strokeWidth": 1}},
     "encoding": {"x": {"field": "year", "type": "quantitative", "title": "YEAR", "scale": {"domain": [1750, 2010], "nice": false, "zero": false}, "axis": {"values": [1750, 1800, 1850, 1900, 1950, 2010], "format": "d", "labelAngle": -60, "labelFlush": false, "labelOverlap": false, "labelColor": {"condition": {"test": "datum.value === 1950", "value": "#e8202a"}, "value": "#333333"}}},
      "y": {"field": "value", "type": "quantitative", "title": "MILLION TONNES", "scale": {"domain": [0, 80], "nice": false, "zero": false}, "axis": {"values": [0, 10, 20, 30, 40, 50, 60, 70, 80], "format": "d", "tickCount": 20, "labelOverlap": false}},
      "y2": {"datum": 0}}},
    {"data": {"name": "ref"}, "mark": "rule", "encoding": {"x": {"field": "year", "type": "quantitative", "title": "YEAR"}}},
    {"data": {"values": [{"label": "Marine fish\ncapture"}]}, "mark": "text", "encoding": {"x": {"datum": 1750}, "y": {"datum": 80}, "text": {"field": "label"}}}
   ]},
   {"width": 223, "height": 148, "layer": [
    {"data": {"name": "shrimp"}, "mark": {"type": "area", "opacity": 1, "fill": {"gradient": "linear", "x1": 0, "y1": 0, "x2": 1, "y2": 0, "stops": [{"offset": 0, "color": "#d7dc9b"}, {"offset": 0.2, "color": "#b9ce33"}, {"offset": 0.5, "color": "#7dbf57"}, {"offset": 0.78, "color": "#36ad80"}, {"offset": 1, "color": "#0da9a5"}]}, "line": {"color": "#333333", "strokeWidth": 1}},
     "encoding": {"x": {"field": "year", "type": "quantitative", "title": "YEAR", "scale": {"domain": [1750, 2010], "nice": false, "zero": false}, "axis": {"values": [1750, 1800, 1850, 1900, 1950, 2010], "format": "d", "labelAngle": -60, "labelFlush": false, "labelOverlap": false, "labelColor": {"condition": {"test": "datum.value === 1950", "value": "#e8202a"}, "value": "#333333"}}},
      "y": {"field": "value", "type": "quantitative", "title": "MILLION TONNES", "scale": {"domain": [0, 4], "nice": false, "zero": false}, "axis": {"values": [0, 1, 2, 3, 4], "format": "d", "tickCount": 20, "labelOverlap": false}},
      "y2": {"datum": 0}}},
    {"data": {"name": "ref"}, "mark": "rule", "encoding": {"x": {"field": "year", "type": "quantitative", "title": "YEAR"}}},
    {"data": {"values": [{"label": "Shrimp\naquaculture"}]}, "mark": "text", "encoding": {"x": {"datum": 1750}, "y": {"datum": 4}, "text": {"field": "label"}}}
   ]},
   {"width": 223, "height": 148, "layer": [
    {"data": {"name": "nitro"}, "mark": {"type": "area", "opacity": 1, "fill": {"gradient": "linear", "x1": 0, "y1": 0, "x2": 1, "y2": 0, "stops": [{"offset": 0, "color": "#d7dc9b"}, {"offset": 0.2, "color": "#b9ce33"}, {"offset": 0.5, "color": "#7dbf57"}, {"offset": 0.78, "color": "#36ad80"}, {"offset": 1, "color": "#0da9a5"}]}, "line": {"color": "#333333", "strokeWidth": 1}},
     "encoding": {"x": {"field": "year", "type": "quantitative", "title": "YEAR", "scale": {"domain": [1750, 2010], "nice": false, "zero": false}, "axis": {"values": [1750, 1800, 1850, 1900, 1950, 2010], "format": "d", "labelAngle": -60, "labelFlush": false, "labelOverlap": false, "labelColor": {"condition": {"test": "datum.value === 1950", "value": "#e8202a"}, "value": "#333333"}}},
      "y": {"field": "value", "type": "quantitative", "title": "HUMAN N FLUX, MTONS YR⁻¹", "scale": {"domain": [0, 100], "nice": false, "zero": false}, "axis": {"values": [0, 20, 40, 60, 80, 100], "format": "d", "tickCount": 20, "labelOverlap": false}},
      "y2": {"datum": 0}}},
    {"data": {"name": "ref"}, "mark": "rule", "encoding": {"x": {"field": "year", "type": "quantitative", "title": "YEAR"}}},
    {"data": {"values": [{"label": "Coastal\nnitrogene"}]}, "mark": "text", "encoding": {"x": {"datum": 1750}, "y": {"datum": 100}, "text": {"field": "label"}}}
   ]}
  ]},
  {"spacing": 43, "hconcat": [
   {"width": 223, "height": 148, "layer": [
    {"data": {"name": "forest"}, "mark": {"type": "area", "opacity": 1, "fill": {"gradient": "linear", "x1": 0, "y1": 0, "x2": 1, "y2": 0, "stops": [{"offset": 0, "color": "#d7dc9b"}, {"offset": 0.2, "color": "#b9ce33"}, {"offset": 0.5, "color": "#7dbf57"}, {"offset": 0.78, "color": "#36ad80"}, {"offset": 1, "color": "#0da9a5"}]}, "line": {"color": "#333333", "strokeWidth": 1}},
     "encoding": {"x": {"field": "year", "type": "quantitative", "title": "YEAR", "scale": {"domain": [1750, 2010], "nice": false, "zero": false}, "axis": {"values": [1750, 1800, 1850, 1900, 1950, 2010], "format": "d", "labelAngle": -60, "labelFlush": false, "labelOverlap": false, "labelColor": {"condition": {"test": "datum.value === 1950", "value": "#e8202a"}, "value": "#333333"}}},
      "y": {"field": "value", "type": "quantitative", "title": "% LOSS (AREA)", "scale": {"domain": [0, 30], "nice": false, "zero": false}, "axis": {"values": [0, 5, 10, 15, 20, 25, 30], "format": "d", "tickCount": 20, "labelOverlap": false}},
      "y2": {"datum": 0}}},
    {"data": {"name": "ref"}, "mark": "rule", "encoding": {"x": {"field": "year", "type": "quantitative", "title": "YEAR"}}},
    {"data": {"values": [{"label": "Tropical\nforest loss"}]}, "mark": "text", "encoding": {"x": {"datum": 1750}, "y": {"datum": 30}, "text": {"field": "label"}}}
   ]},
   {"width": 223, "height": 148, "layer": [
    {"data": {"name": "land"}, "mark": {"type": "area", "opacity": 1, "fill": {"gradient": "linear", "x1": 0, "y1": 0, "x2": 1, "y2": 0, "stops": [{"offset": 0, "color": "#d7dc9b"}, {"offset": 0.2, "color": "#b9ce33"}, {"offset": 0.5, "color": "#7dbf57"}, {"offset": 0.78, "color": "#36ad80"}, {"offset": 1, "color": "#0da9a5"}]}, "line": {"color": "#333333", "strokeWidth": 1}},
     "encoding": {"x": {"field": "year", "type": "quantitative", "title": "YEAR", "scale": {"domain": [1750, 2010], "nice": false, "zero": false}, "axis": {"values": [1750, 1800, 1850, 1900, 1950, 2010], "format": "d", "labelAngle": -60, "labelFlush": false, "labelOverlap": false, "labelColor": {"condition": {"test": "datum.value === 1950", "value": "#e8202a"}, "value": "#333333"}}},
      "y": {"field": "value", "type": "quantitative", "title": "% OF TOTAL LAND AREA", "scale": {"domain": [0, 50], "nice": false, "zero": false}, "axis": {"values": [0, 25, 50], "format": "d", "tickCount": 20, "labelOverlap": false}},
      "y2": {"datum": 0}}},
    {"data": {"name": "ref"}, "mark": "rule", "encoding": {"x": {"field": "year", "type": "quantitative", "title": "YEAR"}}},
    {"data": {"values": [{"label": "Domesticated\nland"}]}, "mark": "text", "encoding": {"x": {"datum": 1750}, "y": {"datum": 50}, "text": {"field": "label"}}}
   ]},
   {"width": 223, "height": 148, "layer": [
    {"data": {"name": "bio"}, "mark": {"type": "area", "opacity": 1, "fill": {"gradient": "linear", "x1": 0, "y1": 0, "x2": 1, "y2": 0, "stops": [{"offset": 0, "color": "#d7dc9b"}, {"offset": 0.2, "color": "#b9ce33"}, {"offset": 0.5, "color": "#7dbf57"}, {"offset": 0.78, "color": "#36ad80"}, {"offset": 1, "color": "#0da9a5"}]}, "line": {"color": "#333333", "strokeWidth": 1}},
     "encoding": {"x": {"field": "year", "type": "quantitative", "title": "YEAR", "scale": {"domain": [1750, 2010], "nice": false, "zero": false}, "axis": {"values": [1750, 1800, 1850, 1900, 1950, 2010], "format": "d", "labelAngle": -60, "labelFlush": false, "labelOverlap": false, "labelColor": {"condition": {"test": "datum.value === 1950", "value": "#e8202a"}, "value": "#333333"}}},
      "y": {"field": "value", "type": "quantitative", "title": "% LOSS MEAN SPECIES ABUNDANCE", "scale": {"domain": [0, 40], "nice": false, "zero": false}, "axis": {"titleFontSize": 8, "values": [0, 10, 20, 30, 40], "format": "d", "tickCount": 20, "labelOverlap": false}},
      "y2": {"datum": 0}}},
    {"data": {"name": "ref"}, "mark": "rule", "encoding": {"x": {"field": "year", "type": "quantitative", "title": "YEAR"}}},
    {"data": {"values": [{"label": "Terrestrial\nbiosphere\ndegradation"}]}, "mark": "text", "encoding": {"x": {"datum": 1750}, "y": {"datum": 40}, "text": {"field": "label"}}}
   ]}
  ]}
 ]}
]
}
